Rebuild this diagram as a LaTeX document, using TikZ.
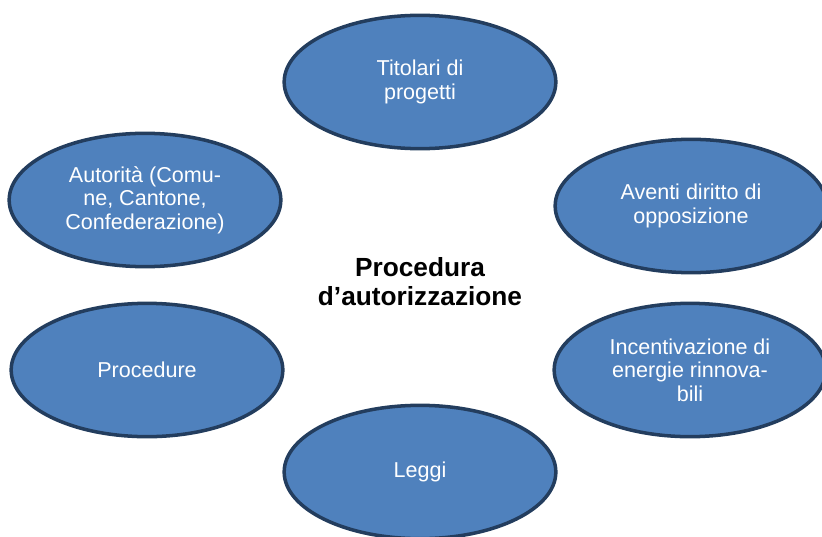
\documentclass[tikz,border=0pt]{standalone}
\usepackage{fontspec}
\setmainfont{Liberation Sans}
\usepackage{tikz}
\usetikzlibrary{shapes.geometric, positioning}
\definecolor{Bubble}  {HTML}{4F81BD}
\definecolor{Rim}     {HTML}{233D5E}
\tikzset{
  bubble/.style={ellipse, fill=Bubble, draw=Rim, line width=3pt,
    minimum width=8.15cm, minimum height=4.0cm, inner sep=0pt,
    text=white, align=center,
    font=\fontsize{18.4pt}{20pt}\selectfont},
  hub/.style={align=center, text=black,
    font=\fontsize{22.4pt}{24.8pt}\selectfont\bfseries}
}

\begin{document}
\begin{tikzpicture}
  \useasboundingbox (0,0) rectangle (24.66,-16.08);
  % centre
  \node[hub] (proc) at (12.6,-8.46) {Procedura\\d’autorizzazione};
  % ring
  \node[bubble] (titolari) at (12.6,-2.46)  {Titolari di\\progetti};
  \node[bubble] (aventi)   at (20.73,-6.18) {Aventi diritto di\\opposizione};
  \node[bubble] (incent)   at (20.7,-11.1)  {Incentivazione di\\energie rinnova-\\bili};
  \node[bubble] (leggi)    at (12.6,-14.16) {Leggi};
  \node[bubble] (procedure) at (4.41,-11.1) {Procedure};
  \node[bubble] (autorita) at (4.35,-6.0)
    {Autorità (Comu-\\ne, Cantone,\\Confederazione)};
\end{tikzpicture}
\end{document}
